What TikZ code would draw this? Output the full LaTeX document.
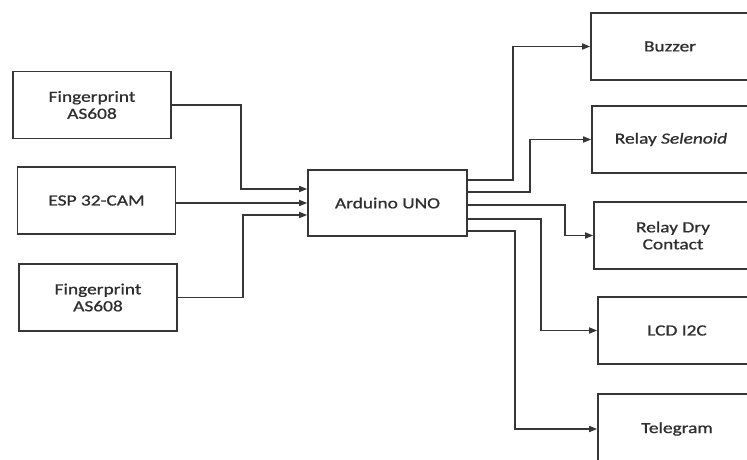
\documentclass[tikz,border=0pt]{standalone}
\usepackage{fontspec}
\setmainfont{Carlito}[FakeStretch=1.25, FakeBold=0.8]
\usepackage{tikz}
\usetikzlibrary{arrows.meta, positioning, calc}
\usepackage{xcolor}
\definecolor{bline}{HTML}{363636}
\definecolor{btext}{HTML}{2E2E2E}
\tikzset{
  blockbox/.style={draw=bline, fill=white, line width=1.6pt, text=btext,
                   align=center, inner sep=2pt, minimum width=158pt, minimum height=67pt,
                   font=\fontsize{15.5}{17}\selectfont},
  sigarr/.style={-{Triangle[length=8pt, width=6pt]}, line width=1.5pt, bline},
}

\begin{document}
\begin{tikzpicture}[x=1pt, y=-1pt]
  \useasboundingbox (0,0) rectangle (747,460);
  \clip (0,0) rectangle (747,460);

  %% Input modules
  \node[blockbox] (fp1) at (92, 105) {Fingerprint\\AS608};
  \node[blockbox] (esp) at (96.5, 200.5) {ESP 32-CAM};
  \node[blockbox] (fp2) at (98, 297.5) {Fingerprint\\AS608};

  %% Controller
  \node[blockbox, minimum width=159pt, minimum height=66pt] (uno) at (387.5, 203) {Arduino UNO};

  %% Output modules
  \node[blockbox] (buzzer) at (670, 46.5) {Buzzer};
  \node[blockbox] (relaysel) at (671, 139.5) {Relay \textit{Selenoid}};
  \node[blockbox] (relaydry) at (673, 235.5) {Relay Dry\\Contact};
  \node[blockbox] (lcd) at (677, 330.5) {LCD I2C};
  \node[blockbox, minimum height=70pt] (telegram) at (677, 429) {Telegram};

  %% Inputs to controller
  \draw[sigarr] (fp1.east) -- ++(69,0) |- ($(uno.west)+(0,-14)$);
  \draw[sigarr] (esp.east |- uno.west) -- (uno.west);
  \draw[sigarr] (fp2.east) -- ++(65,0) |- ($(uno.west)+(0,12)$);

  %% Controller to outputs
  \draw[sigarr] ($(uno.east)+(0,-23)$) -- ++(45,0) |- (buzzer.west);
  \draw[sigarr] ($(uno.east)+(0,-11)$) -- ++(62,0) |- (relaysel.west);
  \draw[sigarr] ($(uno.east)+(0,2)$) -- ++(97,0) |- (relaydry.west);
  \draw[sigarr] ($(uno.east)+(0,16)$) -- ++(73,0) |- (lcd.west);
  \draw[sigarr] ($(uno.east)+(0,28)$) -- ++(47,0) |- (telegram.west);

\end{tikzpicture}
\end{document}
